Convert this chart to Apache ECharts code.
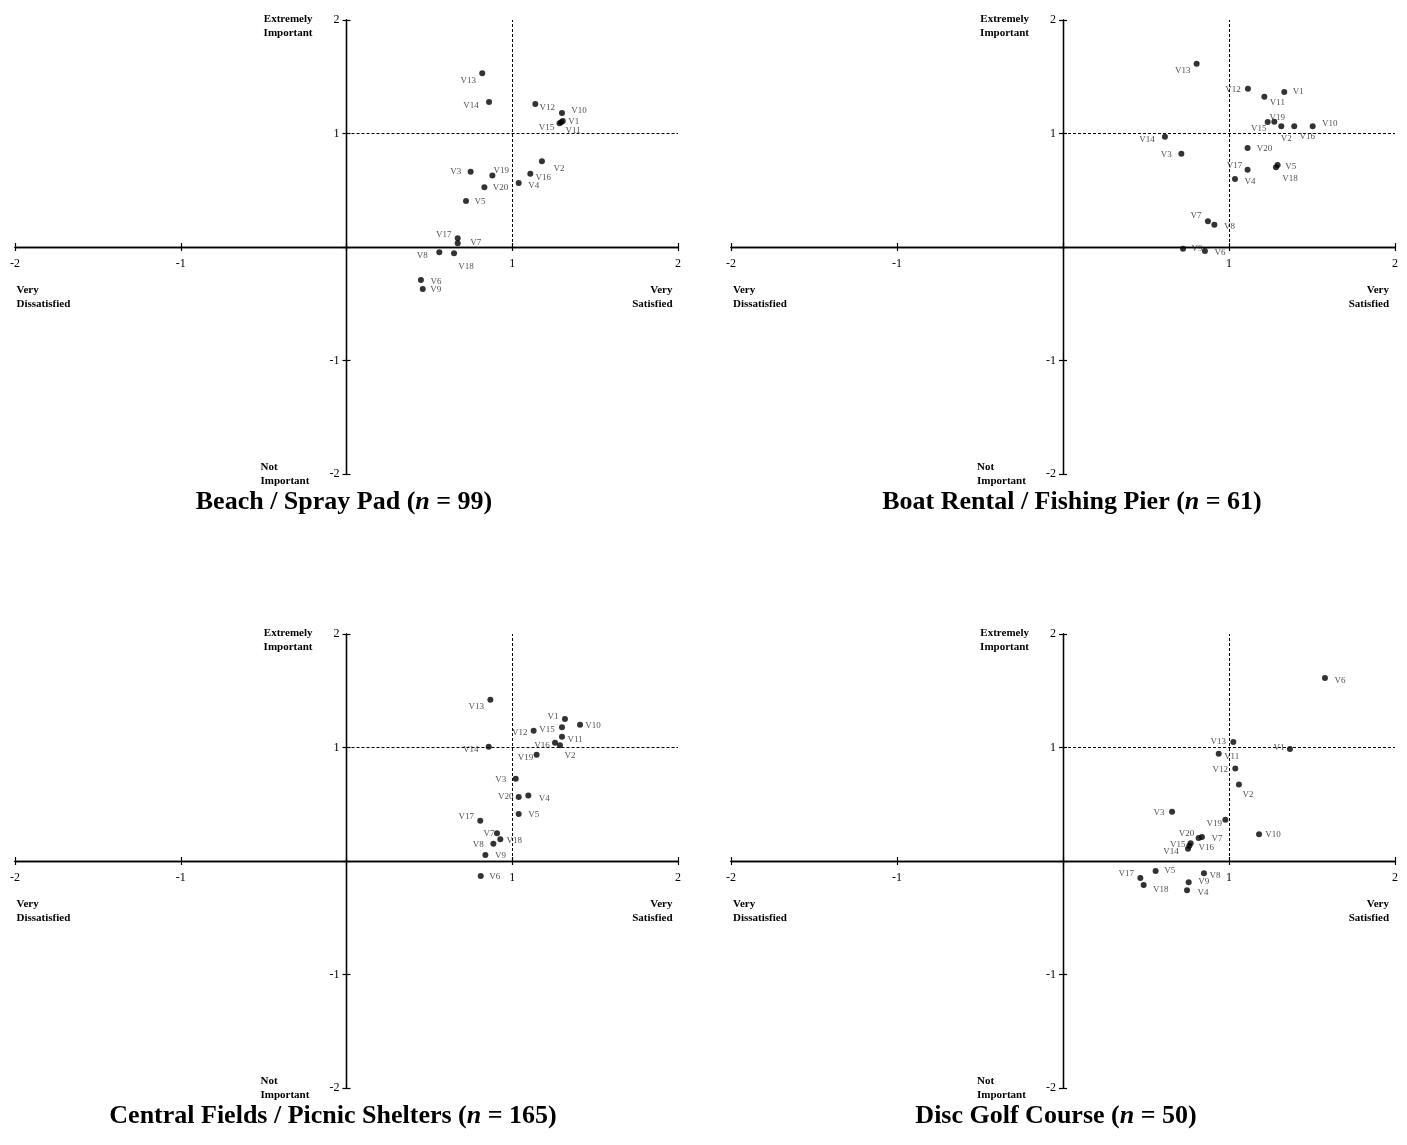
<!DOCTYPE html>
<html>
<head>
<meta charset="utf-8">
<script src="https://cdn.jsdelivr.net/npm/echarts@6/dist/echarts.min.js"></script>
<style>
html,body{margin:0;padding:0;background:#fff;}
#chart{width:1407px;height:1145px;}
</style>
</head>
<body>
<div id="chart"></div>
<script>
// ---------- DATA ----------
const varNames = ['V1','V2','V3','V4','V5','V6','V7','V8','V9','V10','V11','V12','V13','V14','V15','V16','V17','V18','V19','V20'];
const tickValues = [-2, -1, 1, 2];

const beachTitle = 'Beach / Spray Pad';
const beachN = 99;
const beachSat = [1.305, 1.179, 0.749, 1.039, 0.721, 0.449, 0.671, 0.560, 0.460, 1.300, 1.295, 1.139, 0.819, 0.860, 1.285, 1.109, 0.671, 0.649, 0.880, 0.832];
const beachImp = [1.110, 0.755, 0.664, 0.564, 0.405, -0.291, 0.032, -0.047, -0.370, 1.181, 1.100, 1.260, 1.530, 1.278, 1.090, 0.646, 0.077, -0.056, 0.631, 0.526];

const boatTitle = 'Boat Rental / Fishing Pier';
const boatN = 61;
const boatSat = [1.333, 1.315, 0.713, 1.036, 1.293, 0.855, 0.873, 0.912, 0.723, 1.504, 1.213, 1.114, 0.805, 0.614, 1.233, 1.393, 1.112, 1.283, 1.273, 1.112];
const boatImp = [1.366, 1.063, 0.822, 0.599, 0.722, -0.035, 0.226, 0.197, -0.015, 1.063, 1.324, 1.395, 1.615, 0.972, 1.101, 1.063, 0.681, 0.702, 1.104, 0.872];

const fieldsTitle = 'Central Fields / Picnic Shelters';
const fieldsN = 165;
const fieldsSat = [1.318, 1.288, 1.021, 1.097, 1.039, 0.810, 0.908, 0.886, 0.838, 1.409, 1.300, 1.129, 0.868, 0.858, 1.300, 1.258, 0.807, 0.928, 1.147, 1.039];
const fieldsImp = [1.251, 1.019, 0.725, 0.576, 0.414, -0.132, 0.244, 0.152, 0.053, 1.201, 1.095, 1.148, 1.421, 1.007, 1.178, 1.042, 0.355, 0.191, 0.937, 0.564];

const golfTitle = 'Disc Golf Course';
const golfN = 50;
const golfSat = [1.367, 1.060, 0.657, 0.747, 0.558, 1.578, 0.837, 0.849, 0.757, 1.181, 0.938, 1.038, 1.026, 0.753, 0.769, 0.761, 0.466, 0.486, 0.978, 0.817];
const golfImp = [0.987, 0.675, 0.435, -0.258, -0.088, 1.612, 0.211, -0.109, -0.188, 0.235, 0.946, 0.816, 1.048, 0.108, 0.156, 0.135, -0.150, -0.211, 0.364, 0.203];

// ---------- STYLE (label offsets in px, per variable) ----------
const beachLabelOffset = [[11,1],[17,7],[-15,0],[15,3],[14,1],[15,2],[18,-1],[-17,3],[13,1],[17,-2],[12,8],[12,4],[-14,7],[-18,4],[-13,4],[13,4],[-14,-4],[12,13],[9,-5],[16,0]];
const boatLabelOffset = [[14,0],[5,12],[-15,1],[15,3],[13,2],[15,2],[-12,-6],[15,2],[14,0],[17,-3],[13,6],[-15,1],[-14,7],[-18,3],[-9,7],[13,10],[-13,-4],[14,11],[3,-4],[17,1]];
const fieldsLabelOffset = [[-12,-2],[10,10],[-15,1],[16,3],[15,1],[14,1],[-8,0],[-15,1],[15,1],[13,1],[13,3],[-14,2],[-14,7],[-18,3],[-15,2],[-13,3],[-14,-4],[14,1],[-11,3],[-13,0]];
const golfLabelOffset = [[-11,-1],[9,10],[-13,1],[16,2],[14,0],[15,3],[15,2],[11,2],[15,-1],[14,0],[13,3],[-15,1],[-15,0],[-17,3],[-13,1],[17,2],[-14,-4],[17,5],[-11,4],[-12,-4]];

const SERIF = '"Liberation Serif", "Times New Roman", serif';

const panels = [
  {title: beachTitle, n: beachN, sat: beachSat, imp: beachImp, off: beachLabelOffset, grid: {left: 15, top: 20, width: 663, height: 454}, titleX: 344, titleY: 502},
  {title: boatTitle, n: boatN, sat: boatSat, imp: boatImp, off: boatLabelOffset, grid: {left: 731, top: 20, width: 664, height: 454}, titleX: 1072, titleY: 502},
  {title: fieldsTitle, n: fieldsN, sat: fieldsSat, imp: fieldsImp, off: fieldsLabelOffset, grid: {left: 15, top: 634, width: 663, height: 454}, titleX: 333, titleY: 1116},
  {title: golfTitle, n: golfN, sat: golfSat, imp: golfImp, off: golfLabelOffset, grid: {left: 731, top: 634, width: 664, height: 454}, titleX: 1056, titleY: 1116}
];

const grids = [], xAxes = [], yAxes = [], series = [], graphics = [];
const lblFmt = v => (tickValues.indexOf(v) >= 0 ? String(v) : '');

panels.forEach((p, gi) => {
  grids.push(Object.assign({containLabel: false}, p.grid));
  const axLine = {onZero: false, lineStyle: {color: '#000', width: 1.3}};
  const tick = {show: true, length: 4, lineStyle: {color: '#000', width: 1.2}};
  const baseAx = {gridIndex: gi, type: 'value', min: -2, max: 2, interval: 1, splitLine: {show: false}};
  const hOff = -p.grid.height / 2;  // move horizontal axis to centre (value 0)
  const wOff = -p.grid.width / 2;   // move vertical axis to centre (value 0)
  // main axes: outward ticks + labels
  xAxes.push(Object.assign({}, baseAx, {position: 'bottom', offset: hOff, axisLine: axLine, axisTick: tick,
    axisLabel: {formatter: lblFmt, fontFamily: SERIF, fontSize: 12, color: '#000', margin: 11}}));
  yAxes.push(Object.assign({}, baseAx, {position: 'left', offset: wOff, axisLine: axLine, axisTick: tick,
    axisLabel: {formatter: lblFmt, fontFamily: SERIF, fontSize: 12, color: '#000', margin: 7}}));
  // secondary axes: ticks on the other side (cross ticks)
  xAxes.push(Object.assign({}, baseAx, {position: 'top', offset: hOff, axisLine: axLine, axisTick: tick,
    axisLabel: {show: false}}));
  yAxes.push(Object.assign({}, baseAx, {position: 'right', offset: wOff, axisLine: axLine, axisTick: tick,
    axisLabel: {show: false}}));

  const data = varNames.map((nm, i) => ({
    name: nm,
    value: [p.sat[i], p.imp[i]],
    label: {offset: p.off[i]}
  }));
  series.push({
    type: 'scatter',
    xAxisIndex: gi * 2,
    yAxisIndex: gi * 2,
    symbol: 'circle',
    symbolSize: 6,
    itemStyle: {color: '#000'},
    clip: false,
    data: data,
    label: {show: true, position: 'inside', formatter: '{b}', fontFamily: SERIF, fontSize: 9, color: '#222', align: 'center', verticalAlign: 'middle'},
    emphasis: {disabled: true},
    markLine: {
      silent: true, symbol: 'none', animation: false,
      label: {show: false},
      lineStyle: {color: '#000', type: [3, 2], width: 1},
      data: [
        [{coord: [1, 0]}, {coord: [1, 2]}],
        [{coord: [0, 1]}, {coord: [2, 1]}]
      ]
    },
    z: 5
  });

  const ox = p.grid.left + p.grid.width / 2;
  const oy = p.grid.top + p.grid.height / 2;
  const annFont = 'bold 11px ' + SERIF;
  graphics.push({type: 'text', x: ox - 34, y: oy - 235, style: {text: 'Extremely\nImportant', font: annFont, fill: '#000', align: 'right', verticalAlign: 'top', lineHeight: 14}});
  graphics.push({type: 'text', x: ox - 330, y: oy + 36, style: {text: 'Very\nDissatisfied', font: annFont, fill: '#000', align: 'left', verticalAlign: 'top', lineHeight: 14}});
  graphics.push({type: 'text', x: ox + 326, y: oy + 36, style: {text: 'Very\nSatisfied', font: annFont, fill: '#000', align: 'right', verticalAlign: 'top', lineHeight: 14}});
  graphics.push({type: 'text', x: ox - 86, y: oy + 213, style: {text: 'Not\nImportant', font: annFont, fill: '#000', align: 'left', verticalAlign: 'top', lineHeight: 14}});
  graphics.push({type: 'text', x: p.titleX, y: p.titleY, style: {
    text: '{b|' + p.title + ' (}{i|n}{b| = ' + p.n + ')}',
    align: 'center', verticalAlign: 'middle',
    rich: {
      b: {fontFamily: SERIF, fontWeight: 'bold', fontSize: 26, fill: '#000', color: '#000'},
      i: {fontFamily: SERIF, fontWeight: 'bold', fontStyle: 'italic', fontSize: 26, fill: '#000', color: '#000'}
    }
  }});
});

const chart = echarts.init(document.getElementById('chart'), null, {renderer: 'canvas'});
chart.setOption({
  animation: false,
  backgroundColor: '#fff',
  grid: grids,
  xAxis: xAxes,
  yAxis: yAxes,
  series: series,
  graphic: graphics
});
</script>
</body>
</html>
